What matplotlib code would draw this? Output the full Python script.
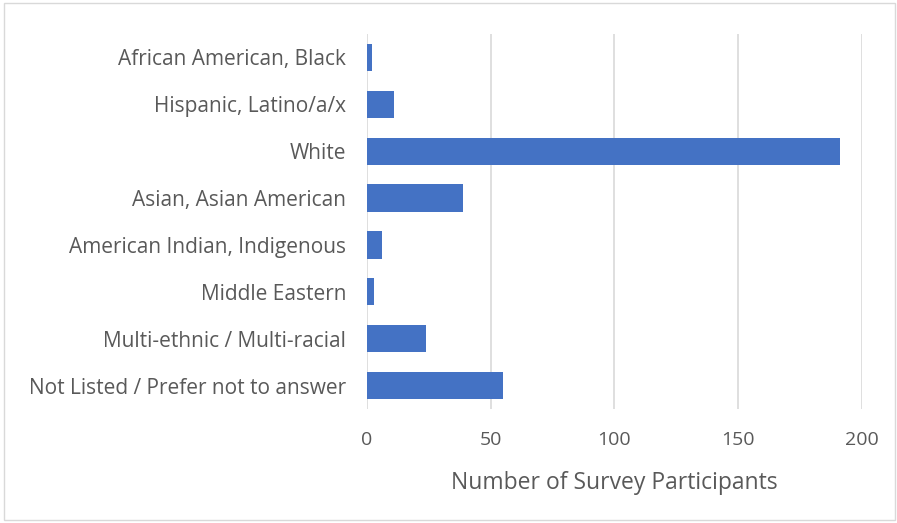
import matplotlib.pyplot as plt
from matplotlib.patches import Rectangle

# Survey data
groups = ["African American, Black", "Hispanic, Latino/a/x", "White",
          "Asian, Asian American", "American Indian, Indigenous",
          "Middle Eastern", "Multi-ethnic / Multi-racial",
          "Not Listed / Prefer not to answer"]
counts = [2, 11, 191, 39, 6, 3, 24, 55]
xticks = [0, 50, 100, 150, 200]

plt.rcParams['font.family'] = ['Open Sans', 'DejaVu Sans']
text_color = "#595959"

fig = plt.figure(figsize=(8.97, 5.23), dpi=100)
ax = fig.add_axes([0.409, 0.218, 0.552, 0.717])

ypos = list(range(len(groups)))
ax.barh(ypos, counts, height=0.58, color="#4472C4", zorder=3)
ax.set_yticks(ypos)
ax.set_yticklabels(groups)
ax.set_ylim(len(groups) - 0.5, -0.5)
ax.set_xlim(0, 200)
ax.set_xticks(xticks)

ax.grid(axis='x', color="#d9d9d9", linewidth=1.2, zorder=0)
for s in ax.spines.values():
    s.set_visible(False)
ax.tick_params(axis='x', length=0, labelsize=14, colors=text_color, pad=15.5)
ax.tick_params(axis='y', length=0, labelsize=15, colors=text_color, pad=15)
ax.set_xlabel("Number of Survey Participants", fontsize=16.5, color=text_color, labelpad=16)

# chart border
fig.patches.append(Rectangle((0.005, 0.005), 0.993, 0.99, transform=fig.transFigure,
                             fill=False, edgecolor="#d9d9d9", linewidth=1))

fig.savefig("out.png", dpi=100)
